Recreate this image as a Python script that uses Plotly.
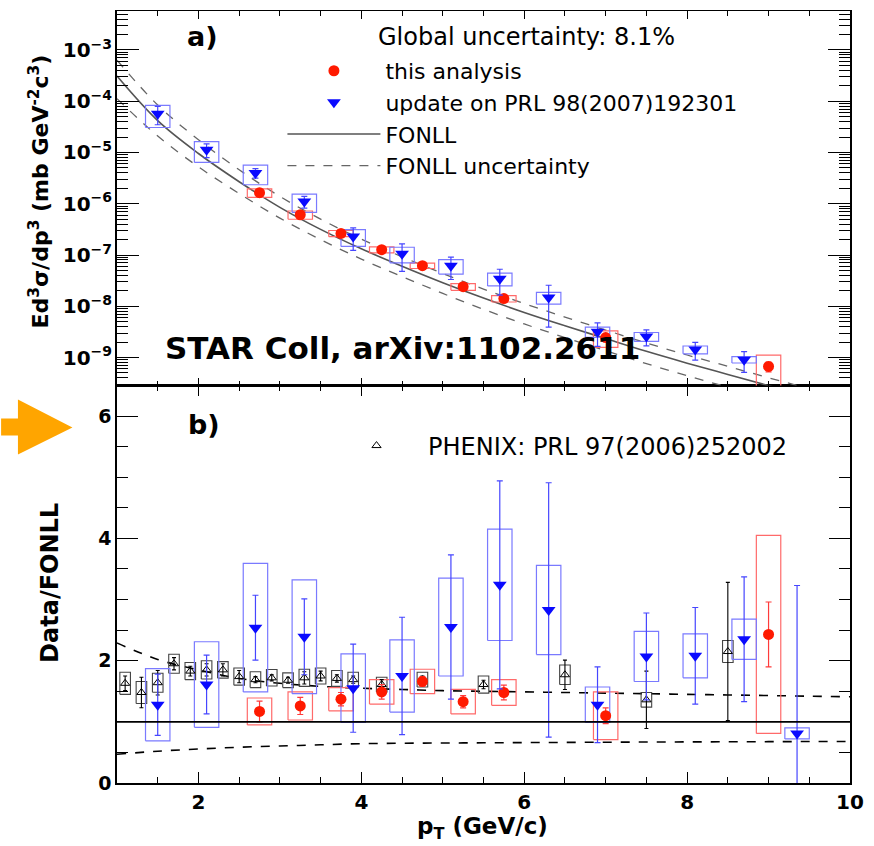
import plotly.graph_objects as go

# ---------------- data ----------------
# this analysis (red)
pt_red = [2.75, 3.25, 3.75, 4.25, 4.75, 5.25, 5.75, 7.0, 9.0]
red_xsec = [1.64e-6, 6.1e-7, 2.64e-7, 1.27e-7, 6.2e-8, 2.41e-8, 1.41e-8, 2.45e-9, 6.7e-10]
red_ratio = [1.17, 1.26, 1.37, 1.49, 1.66, 1.33, 1.48, 1.10, 2.43]
red_stat = [0.17, 0.14, 0.11, 0.12, 0.08, 0.10, 0.12, 0.13, 0.53]
red_syst = [0.22, 0.23, 0.19, 0.20, 0.20, 0.20, 0.21, 0.39, 1.62]

# update on PRL 98 (blue)
pt_blue = [1.5, 2.1, 2.7, 3.3, 3.9, 4.5, 5.1, 5.7, 6.3, 6.9, 7.5, 8.1, 8.7, 9.35]
blue_xsec = [5.7e-5, 1.13e-5, 4.0e-6, 1.11e-6, 2.3e-7, 1.06e-7, 6.2e-8, 3.46e-8,
             1.48e-8, 3.2e-9, 2.57e-9, 1.43e-9, 9.1e-10]
blue_ratio = [1.28, 1.61, 2.54, 2.39, 1.55, 1.75, 2.55, 3.24, 2.83, 1.28, 2.07, 2.08, 2.35, 0.81]
blue_stat = [0.50, 0.48, 0.53, 0.62, 0.72, 0.96, 1.18, 1.70, 2.08, 0.62, 0.71, 0.79, 1.02, 2.42]
blue_syst = [0.59, 0.70, 1.05, 0.93, 0.56, 0.59, 0.80, 0.91, 0.73, 0.29, 0.41, 0.36, 0.33, 0.09]

# PHENIX PRL 97 (black)
pt_phx = [1.1, 1.3, 1.5, 1.7, 1.9, 2.1, 2.3, 2.5, 2.7, 2.9, 3.1, 3.3, 3.5, 3.7, 3.9,
          4.25, 4.75, 5.5, 6.5, 7.5, 8.5]
phx_ratio = [1.63, 1.48, 1.64, 1.95, 1.83, 1.85, 1.85, 1.74, 1.69, 1.72, 1.68, 1.72, 1.75,
             1.71, 1.69, 1.61, 1.69, 1.61, 1.77, 1.36, 2.15]
phx_stat = [0.12, 0.25, 0.20, 0.10, 0.08, 0.10, 0.10, 0.10, 0.05, 0.05, 0.05, 0.10, 0.08,
            0.06, 0.06, 0.08, 0.06, 0.07, 0.24, 0.47, 1.13]
phx_syst = [0.18, 0.18, 0.155, 0.155, 0.14, 0.15, 0.135, 0.14, 0.13, 0.135, 0.12, 0.14,
            0.13, 0.13, 0.12, 0.12, 0.12, 0.14, 0.16, 0.12, 0.18]

# FONLL
pt_fonll = [1.0, 1.5, 2.0, 2.5, 3.0, 3.5, 4.0, 4.5, 5.0, 5.5, 6.0, 6.5, 7.0, 7.5,
            8.0, 8.5, 9.0, 9.5, 10.0]
fonll_xsec = [3.09e-4, 4.17e-5, 9.55e-6, 2.69e-6, 8.51e-7, 3.16e-7, 1.32e-7, 6.03e-8,
              2.88e-8, 1.45e-8, 7.59e-9, 4.17e-9, 2.34e-9, 1.32e-9, 7.76e-10, 4.68e-10,
              2.82e-10, 1.74e-10, 1.10e-10]
fonll_xsec_hi = [6.31e-4, 8.41e-5, 1.77e-5, 4.60e-6, 1.39e-6, 5.00e-7, 2.04e-7, 9.23e-8,
                 4.36e-8, 2.17e-8, 1.13e-8, 6.17e-9, 3.44e-9, 1.92e-9, 1.12e-9, 6.73e-10,
                 4.03e-10, 2.47e-10, 1.55e-10]
fonll_xsec_lo = [1.12e-4, 2.09e-5, 5.25e-6, 1.58e-6, 5.25e-7, 2.00e-7, 8.32e-8, 3.80e-8,
                 1.78e-8, 8.71e-9, 4.52e-9, 2.45e-9, 1.36e-9, 7.59e-10, 4.42e-10, 2.63e-10,
                 1.57e-10, 9.55e-11, 5.96e-11]
fonll_ratio_hi = [2.29, 2.02, 1.85, 1.71, 1.63, 1.58, 1.55, 1.53, 1.51, 1.50, 1.49, 1.48,
                  1.47, 1.46, 1.45, 1.44, 1.43, 1.42, 1.41]
fonll_ratio_lo = [0.47, 0.52, 0.556, 0.585, 0.605, 0.625, 0.643, 0.65, 0.654, 0.657, 0.661,
                  0.664, 0.667, 0.67, 0.672, 0.674, 0.676, 0.678, 0.68]

# ---------------- styling ----------------
W, H = 874, 846
L, R, T, B = 117, 857, 10, 783
F = "DejaVu Sans"
RED, RED_BOX, RED_ERR = "#ff1a00", "#ff6a6a", "#ff3b3b"
BLUE, BLUE_BOX, BLUE_ERR = "#0a0aff", "#7a7aff", "#4646ff"
BOX_HW = 0.15
PHX_HW = 0.065


def px_x(px):
    return (px - L) / (R - L)


def px_y(py):
    return (B - py) / (B - T)


def box_path(xs, ys, lo, hi, hw):
    X, Y = [], []
    for x, y, l, h in zip(xs, ys, lo, hi):
        X += [x - hw, x + hw, x + hw, x - hw, x - hw, None]
        Y += [y - l, y - l, y + h, y + h, y - l, None]
    return X, Y


fig = go.Figure()

# ---------- bottom panel (ratio) ----------
fig.add_trace(go.Scatter(x=pt_fonll, y=fonll_ratio_hi, mode="lines", line=dict(color="black", width=1.6, dash="dash", shape="spline"),
                         showlegend=False, xaxis="x", yaxis="y", hoverinfo="skip"))
fig.add_trace(go.Scatter(x=pt_fonll, y=fonll_ratio_lo, mode="lines", line=dict(color="black", width=1.6, dash="dash", shape="spline"),
                         showlegend=False, xaxis="x", yaxis="y", hoverinfo="skip"))
fig.add_hline(y=1, line=dict(color="black", width=1.6), xref="x", yref="y")

bx, by = box_path(pt_phx, phx_ratio, phx_syst, phx_syst, PHX_HW)
fig.add_trace(go.Scatter(x=bx, y=by, mode="lines", line=dict(color="#444444", width=1.1), showlegend=False,
                         xaxis="x", yaxis="y", hoverinfo="skip"))
bx, by = box_path(pt_red, red_ratio, red_syst, red_syst, BOX_HW)
fig.add_trace(go.Scatter(x=bx, y=by, mode="lines", line=dict(color=RED_BOX, width=1.2), showlegend=False,
                         xaxis="x", yaxis="y", hoverinfo="skip"))
bx, by = box_path(pt_blue, blue_ratio, blue_syst, blue_syst, BOX_HW)
fig.add_trace(go.Scatter(x=bx, y=by, mode="lines", line=dict(color=BLUE_BOX, width=1.2), showlegend=False,
                         xaxis="x", yaxis="y", hoverinfo="skip"))

fig.add_trace(go.Scatter(x=pt_phx, y=phx_ratio, mode="markers", name="PHENIX: PRL 97(2006)252002",
                         marker=dict(symbol="triangle-up-open", size=8, color="black", line=dict(width=1)),
                         error_y=dict(type="data", array=phx_stat, color="black", thickness=1.1, width=2),
                         xaxis="x", yaxis="y", legend="legend2", showlegend=True))
fig.add_trace(go.Scatter(x=pt_red, y=red_ratio, mode="markers", showlegend=False,
                         marker=dict(symbol="circle", size=11, color=RED),
                         error_y=dict(type="data", array=red_stat, color=RED_ERR, thickness=1.2, width=3),
                         xaxis="x", yaxis="y"))
fig.add_trace(go.Scatter(x=pt_blue, y=blue_ratio, mode="markers", showlegend=False,
                         marker=dict(symbol="triangle-down", size=12, color=BLUE),
                         error_y=dict(type="data", array=blue_stat, color=BLUE_ERR, thickness=1.2, width=3),
                         xaxis="x", yaxis="y"))

# ---------- top panel (cross section) ----------
nb = len(blue_xsec)
red_lo = [v * s / r for v, s, r in zip(red_xsec, red_syst, red_ratio)]
red_el = [v * s / r for v, s, r in zip(red_xsec, red_stat, red_ratio)]
blue_lo = [v * s / r for v, s, r in zip(blue_xsec, blue_syst[:nb], blue_ratio[:nb])]
blue_el = [v * s / r for v, s, r in zip(blue_xsec, blue_stat[:nb], blue_ratio[:nb])]

fig.add_trace(go.Scatter(x=pt_fonll, y=fonll_xsec, mode="lines", name="FONLL", legendrank=3,
                         line=dict(color="#555555", width=1.6, shape="spline"), xaxis="x2", yaxis="y2"))
fig.add_trace(go.Scatter(x=pt_fonll, y=fonll_xsec_hi, mode="lines", name="FONLL uncertainty", legendrank=4,
                         line=dict(color="#666666", width=1.3, dash="dash", shape="spline"), xaxis="x2", yaxis="y2"))
fig.add_trace(go.Scatter(x=pt_fonll, y=fonll_xsec_lo, mode="lines", showlegend=False,
                         line=dict(color="#666666", width=1.3, dash="dash", shape="spline"), xaxis="x2", yaxis="y2"))

bx, by = box_path(pt_red, red_xsec, red_lo, red_lo, BOX_HW)
fig.add_trace(go.Scatter(x=bx, y=by, mode="lines", line=dict(color=RED_BOX, width=1.2), showlegend=False,
                         xaxis="x2", yaxis="y2", hoverinfo="skip"))
bx, by = box_path(pt_blue[:nb], blue_xsec, blue_lo, blue_lo, BOX_HW)
fig.add_trace(go.Scatter(x=bx, y=by, mode="lines", line=dict(color=BLUE_BOX, width=1.2), showlegend=False,
                         xaxis="x2", yaxis="y2", hoverinfo="skip"))

fig.add_trace(go.Scatter(x=pt_red, y=red_xsec, mode="markers", name="this analysis", legendrank=1,
                         marker=dict(symbol="circle", size=11, color=RED),
                         error_y=dict(type="data", array=red_el, color=RED_ERR, thickness=1.2, width=3),
                         xaxis="x2", yaxis="y2"))
fig.add_trace(go.Scatter(x=pt_blue[:nb], y=blue_xsec, mode="markers", name="update on PRL 98(2007)192301", legendrank=2,
                         marker=dict(symbol="triangle-down", size=12, color=BLUE),
                         error_y=dict(type="data", array=blue_el, color=BLUE_ERR, thickness=1.2, width=3),
                         xaxis="x2", yaxis="y2"))

# ---------- axes ----------
split = (B - 385) / (B - T)
ax_common = dict(showline=True, linecolor="black", mirror="ticks", ticks="inside",
                 tickcolor="black", tickwidth=1, showgrid=False, zeroline=False)

fig.update_layout(
    width=W, height=H,
    margin=dict(l=L, r=W - R, t=T, b=H - B),
    paper_bgcolor="white", plot_bgcolor="white",
    font=dict(family=F, color="black"),
    xaxis=dict(domain=[0, 1], anchor="y", range=[1, 10], dtick=2, tick0=0, ticklen=11, linewidth=1.5,
               tickfont=dict(family=F, size=20, weight="bold"),
               minor=dict(dtick=0.5, ticklen=6, ticks="inside", tickcolor="black", showgrid=False),
               **ax_common),
    yaxis=dict(domain=[0, split], anchor="x", range=[0, 6.5], dtick=2, tick0=0, ticklen=21, linewidth=1.5,
               tickfont=dict(family=F, size=19, weight="bold"),
               minor=dict(dtick=0.5, ticklen=11, ticks="inside", tickcolor="black", showgrid=False),
               **ax_common),
    xaxis2=dict(domain=[0, 1], anchor="y2", matches="x", range=[1, 10], dtick=2, tick0=0, ticklen=8,
                showticklabels=False, linewidth=1,
                minor=dict(dtick=0.5, ticklen=5, ticks="inside", tickcolor="black", showgrid=False),
                **ax_common),
    yaxis2=dict(domain=[split, 1], anchor="x2", type="log", range=[-9.546, -2.24], dtick=1,
                exponentformat="power", ticklen=22, linewidth=1.5,
                tickfont=dict(family=F, size=16, weight="bold"),
                minor=dict(ticklen=11, ticks="inside", tickcolor="black", showgrid=False),
                **ax_common),
    legend=dict(x=px_x(284), y=px_y(49), xanchor="left", yanchor="top", itemwidth=93,
                font=dict(family=F, size=22, color="black"), bgcolor="rgba(0,0,0,0)",
                traceorder="normal", tracegroupgap=0),
    legend2=dict(x=px_x(327), y=px_y(423), xanchor="left", yanchor="top", itemwidth=93,
                 font=dict(family=F, size=24, color="black"), bgcolor="rgba(0,0,0,0)"),
)

# ---------- annotations ----------
ann = [
    dict(text="a)", x=px_x(203), y=px_y(36), size=27, bold=True, xanchor="center", yanchor="middle"),
    dict(text="b)", x=px_x(205), y=px_y(424), size=27, bold=True, xanchor="center", yanchor="middle"),
    dict(text="Global uncertainty: 8.1%", x=px_x(378), y=px_y(36), size=24, bold=False, xanchor="left", yanchor="middle"),
    dict(text="STAR Coll, arXiv:1102.2611", x=px_x(163), y=px_y(347), size=31, bold=True, xanchor="left", yanchor="middle"),
    dict(text="p<sub>T</sub> (GeV/c)", x=px_x(486), y=px_y(845), size=23, bold=True, xanchor="center", yanchor="bottom"),
]
for a in ann:
    fig.add_annotation(text=a["text"], x=a["x"], y=a["y"], xref="paper", yref="paper",
                       xanchor=a["xanchor"], yanchor=a["yanchor"], showarrow=False,
                       font=dict(family=F, size=a["size"], color="black",
                                 weight="bold" if a["bold"] else "normal"))

fig.add_annotation(text="Ed<sup>3</sup>σ/dp<sup>3</sup> (mb GeV<sup>-2</sup>c<sup>3</sup>)",
                   x=px_x(38), y=px_y(191), xref="paper", yref="paper", textangle=-90,
                   showarrow=False, xanchor="center", yanchor="middle",
                   font=dict(family=F, size=22, color="black", weight="bold"))
fig.add_annotation(text="Data/FONLL", x=px_x(50), y=px_y(583), xref="paper", yref="paper", textangle=-90,
                   showarrow=False, xanchor="center", yanchor="middle",
                   font=dict(family=F, size=24, color="black", weight="bold"))

# orange arrow (decoration, left margin)
pts = [(0, 418), (17, 418), (17, 399), (72, 427), (17, 454), (17, 435), (0, 435)]
path = "M " + " L ".join(f"{px_x(a):.5f},{px_y(b):.5f}" for a, b in pts) + " Z"
fig.add_shape(type="path", path=path, xref="paper", yref="paper", fillcolor="#FFA500",
              line=dict(width=0), layer="above")

fig.write_html("out.html")
